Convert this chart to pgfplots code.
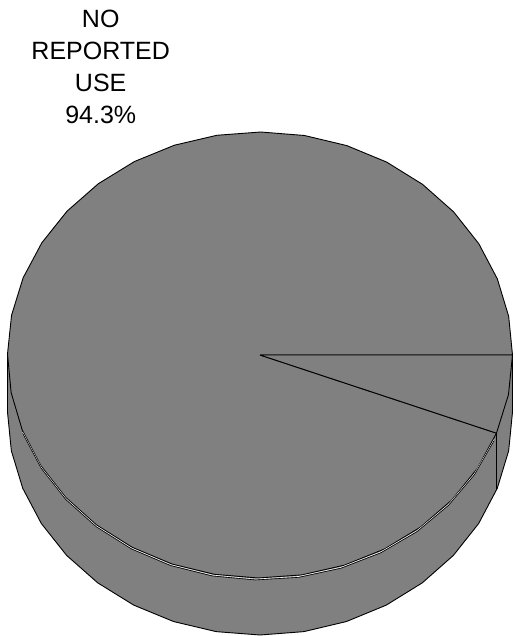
\documentclass[border=0pt]{standalone}
\usepackage{pgfplots}
\pgfplotsset{compat=1.18}
\usepackage{fontspec}
\setmainfont{Liberation Sans}
\definecolor{piegray}{HTML}{808080}
\begin{document}
\begin{tikzpicture}
\def\cx{260}\def\cy{355}\def\rx{252.5}\def\ry{223}\def\dz{57}
% data: NO REPORTED USE 94.3, REPORTED USE 5.7
\def\vNo{94.3}\def\vUse{5.7}
\pgfmathsetmacro{\angA}{3.6*\vNo}
\pgfmathsetmacro{\xl}{\cx-\rx}
\pgfmathsetmacro{\xr}{\cx+\rx}
\pgfmathsetmacro{\cyb}{\cy+\dz}
\pgfmathsetmacro{\px}{\cx+\rx*cos(\angA)}
\pgfmathsetmacro{\py}{\cy-\ry*sin(\angA)}
\pgfmathsetmacro{\pyb}{\py+\dz}
\begin{axis}[width=514pt,height=636pt,scale only axis,
  xmin=0,xmax=514,ymin=0,ymax=636,y dir=reverse,hide axis,clip=false]
\addplot[draw=none] coordinates {(0,0) (514,636)};
% side: bottom ellipse
\addplot[fill=piegray,draw=black,line width=0.9pt,domain=0:360,samples=37,variable=\t]
  ({\cx+\rx*cos(\t)},{\cy+\dz-\ry*sin(\t)});
\addplot[fill=piegray,draw=none] coordinates {(\xl,\cy) (\xr,\cy) (\xr,\cyb) (\xl,\cyb)};
\addplot[black,line width=0.9pt] coordinates {(\xl,\cy) (\xl,\cyb)};
\addplot[black,line width=0.9pt] coordinates {(\xr,\cy) (\xr,\cyb)};
% top face: big slice
\addplot[fill=piegray,draw=black,line width=0.9pt,samples at={-1,0,...,35},variable=\u]
  ({ifthenelse(\u<0 || \u>34, \cx, \cx+\rx*cos(\angA*\u/34))},
   {ifthenelse(\u<0 || \u>34, \cy, \cy-\ry*sin(\angA*\u/34))});
% top face: small slice
\addplot[fill=piegray,draw=black,line width=0.9pt,samples at={-1,0,1,2,3},variable=\u]
  ({ifthenelse(\u<0 || \u>2, \cx, \cx+\rx*cos(\angA+(360-\angA)*\u/2))},
   {ifthenelse(\u<0 || \u>2, \cy, \cy-\ry*sin(\angA+(360-\angA)*\u/2))});
% slice edge on side
\addplot[black,line width=0.9pt] coordinates {(\px,\py) (\px,\pyb)};
% doubled rim line
\addplot[white,line width=0.6pt,domain=200:338,samples=15,variable=\t]
  ({\cx+\rx*cos(\t)},{\cy+1.1-\ry*sin(\t)});
\addplot[black,line width=0.6pt,domain=200:338,samples=15,variable=\t]
  ({\cx+\rx*cos(\t)},{\cy+2.0-\ry*sin(\t)});
\begin{scope}[every node/.style={anchor=base,font=\fontsize{25}{32}\selectfont,inner sep=0pt}]
\node at (axis cs:100.7,27.3) {NO};
\node at (axis cs:100.7,59.6) {REPORTED};
\node at (axis cs:100.7,91.7) {USE};
\node at (axis cs:100.7,123.4) {94.3\%};
\end{scope}
\end{axis}
\end{tikzpicture}
\end{document}
